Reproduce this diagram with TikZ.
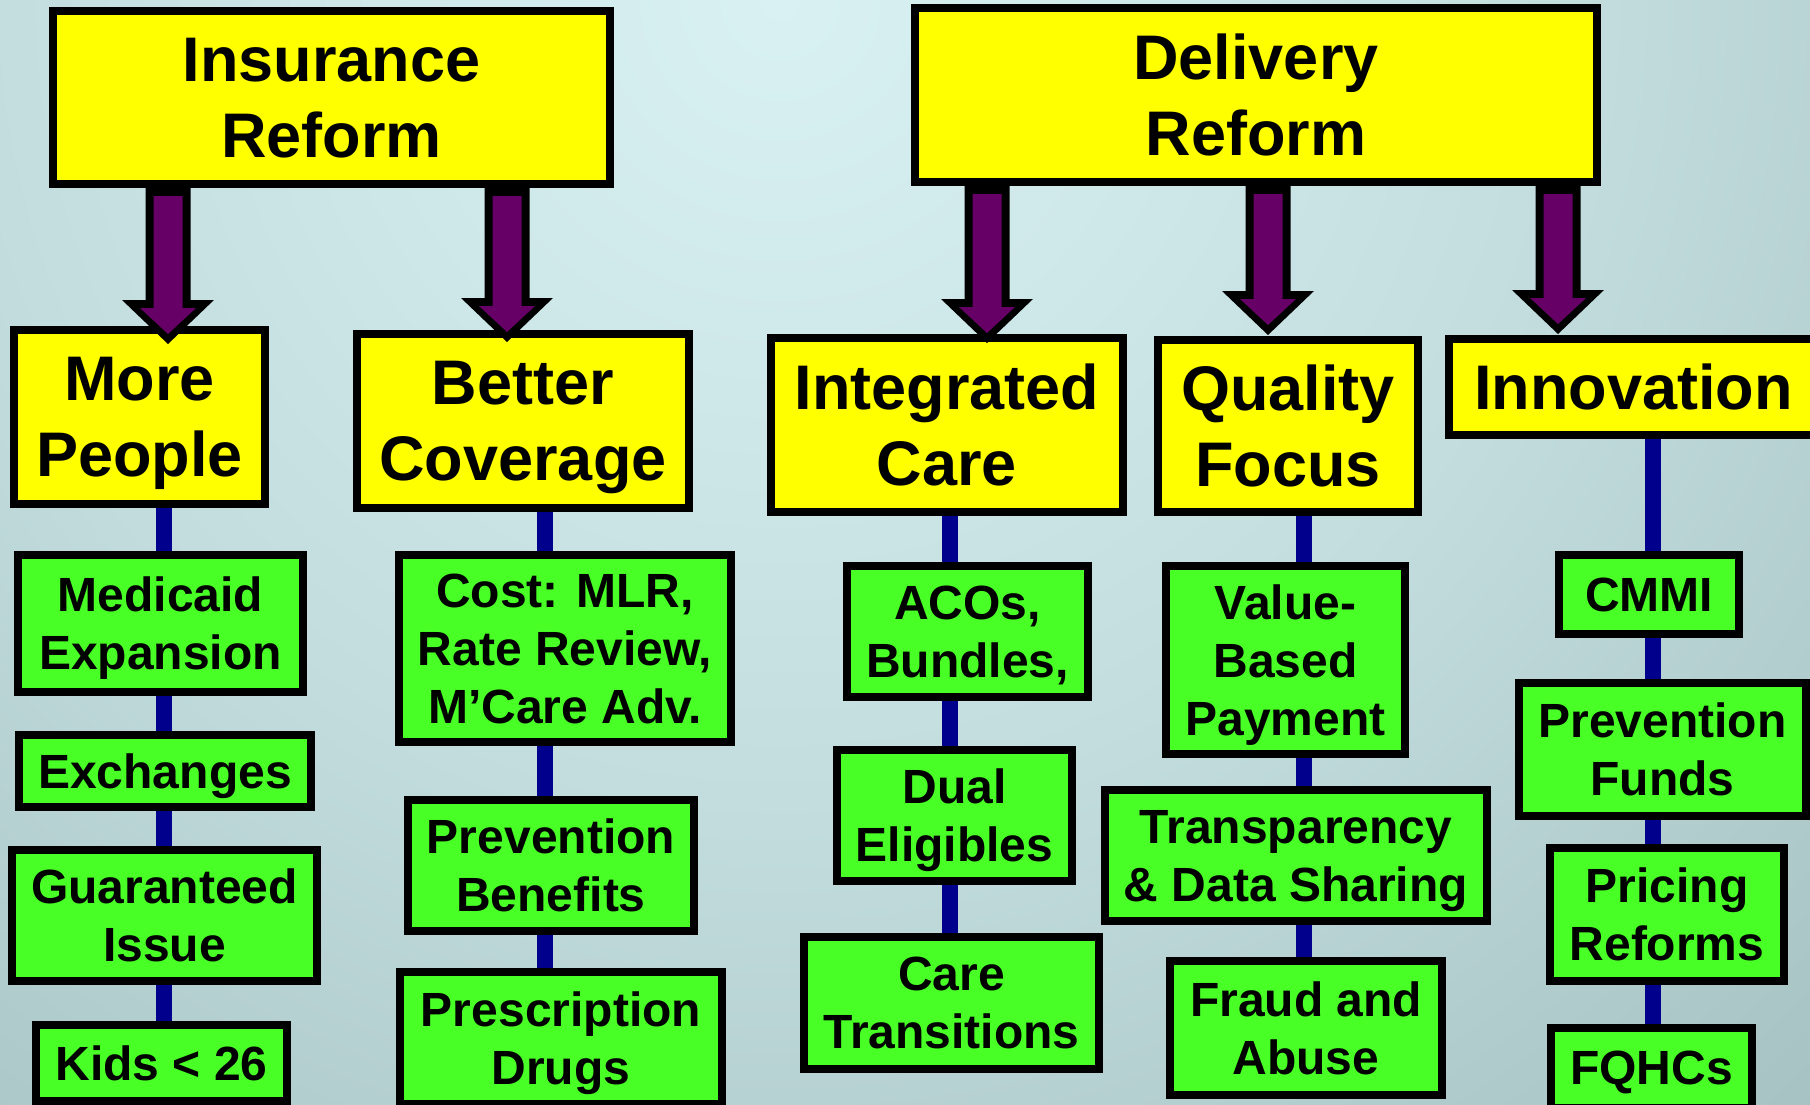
\documentclass[tikz,border=0pt]{standalone}
\usepackage{fontspec}
\setmainfont{Liberation Sans}
\usetikzlibrary{calc}

\definecolor{hdyellow}{RGB}{255,255,0}
\definecolor{itemgreen}{RGB}{72,255,38}
\definecolor{arrowpurple}{RGB}{102,0,102}
\definecolor{linknavy}{RGB}{0,0,140}
\definecolor{bgA}{HTML}{D9F1F2}
\definecolor{bgB}{HTML}{C3DDDE}
\definecolor{bgC}{HTML}{A3BFBF}
\definecolor{bgD}{HTML}{8BA7A5}
\definecolor{bgE}{HTML}{6D8985}

\pgfdeclareradialshading{backdrop}{\pgfpoint{0bp}{0bp}}{%
  color(0bp)=(bgA); color(12.5bp)=(bgB); color(25bp)=(bgC);
  color(34bp)=(bgD); color(47bp)=(bgE); color(50bp)=(bgE)}

\pgfdeclarelayer{backdrop}
\pgfdeclarelayer{links}
\pgfsetlayers{backdrop,links,main}

\tikzset{
  box/.style={draw=black, line width=8pt, inner sep=0pt, outer sep=0pt,
    align=center, text=black, text depth=0pt},
  head/.style={box, fill=hdyellow, font=\fontsize{63}{76}\selectfont\bfseries},
  item/.style={box, fill=itemgreen, font=\fontsize{48}{58}\selectfont\bfseries},
  link/.style={draw=linknavy, line width=16pt},
}

% fat outlined down arrow: #1 column coordinate, #2 source node,
% #3 target node, #4 tip offset below the target's top edge
\newcommand{\fatarrow}[4]{%
  \coordinate (fs) at (#2.south -| #1);
  \coordinate (ft) at ($(#3.north -| #1)+(0,#4)$);
  \fill[black] ($(fs)+(-22.5,0)$) -- ($(ft)+(-22.5,-44)$) -- ($(ft)+(-46,-44)$)
    -- (ft) -- ($(ft)+(46,-44)$) -- ($(ft)+(22.5,-44)$) -- ($(fs)+(22.5,0)$) -- cycle;
  \fill[arrowpurple] ($(fs)+(-14.5,12)$) -- ($(ft)+(-14.5,-36)$) -- ($(ft)+(-28,-36)$)
    -- ($(ft)+(0,-10)$) -- ($(ft)+(28,-36)$) -- ($(ft)+(14.5,-36)$) -- ($(fs)+(14.5,12)$) -- cycle;
}

\begin{document}
\begin{tikzpicture}[x=1pt, y=-1pt]
\useasboundingbox (0,0) rectangle (1810,1105);

\begin{pgfonlayer}{backdrop}
  \clip (0,0) rectangle (1810,1105);
  \shade[shading=backdrop] (780,0) circle (1600);
\end{pgfonlayer}

% column positions
\coordinate (c1) at (164,0);
\coordinate (c2) at (545,0);
\coordinate (c3) at (950,0);
\coordinate (c4) at (1304,0);
\coordinate (c5) at (1653,0);
\coordinate (a1) at (168,0);
\coordinate (a2) at (507,0);
\coordinate (a3) at (987,0);
\coordinate (a4) at (1268,0);
\coordinate (a5) at (1558,0);

% top level
\node[head, minimum width=557pt, minimum height=173pt] (ins) at (331.5,97.5) {Insurance\\Reform};
\node[head, minimum width=682pt, minimum height=174pt] (del) at (1256,95) {Delivery\\Reform};

% second level
\node[head, minimum width=251pt, minimum height=174pt] (mp) at (139.5,417) {More\\People};
\node[head, minimum width=332pt, minimum height=174pt] (bc) at (523,421) {Better\\Coverage};
\node[head, minimum width=352pt, minimum height=174pt] (ic) at (947,425) {Integrated\\Care};
\node[head, minimum width=260pt, minimum height=172pt] (qf) at (1288,426) {Quality\\Focus};
\node[head, minimum width=369pt, minimum height=96pt] (inn) at (1633.5,387) {Innovation};

% more people
\node[item, minimum width=285pt, minimum height=137pt] (med) at (160.5,623.5) {Medicaid\\Expansion};
\node[item, minimum width=292pt, minimum height=72pt] (exc) at (165,771) {Exchanges};
\node[item, minimum width=305pt, minimum height=131pt] (gi) at (164.5,915.5) {Guaranteed\\Issue};
\node[item, minimum width=251pt, minimum height=76pt] (kids) at (161.5,1063) {Kids < 26};

% better coverage
\node[item, minimum width=332pt, minimum height=187pt] (cost) at (565,648.5) {Cost: MLR,\\Rate Review,\\M’Care Adv.};
\node[item, minimum width=286pt, minimum height=131pt] (pb) at (551,865.5) {Prevention\\Benefits};
\node[item, minimum width=322pt, minimum height=132pt] (rx) at (561,1038) {Prescription\\Drugs};

% integrated care
\node[item, minimum width=241pt, minimum height=131pt] (aco) at (967.5,631.5) {ACOs,\\Bundles,};
\node[item, minimum width=235pt, minimum height=131pt] (dual) at (954.5,815.5) {Dual\\Eligibles};
\node[item, minimum width=295pt, minimum height=132pt] (ct) at (951.5,1003) {Care\\Transitions};

% quality focus
\node[item, minimum width=239pt, minimum height=188pt] (vbp) at (1285.5,660) {Value-\\Based\\Payment};
\node[item, minimum width=382pt, minimum height=131pt] (tds) at (1296,855.5) {Transparency\\\& Data Sharing};
\node[item, minimum width=272pt, minimum height=134pt] (fa) at (1306,1028) {Fraud and\\Abuse};

% innovation
\node[item, minimum width=180pt, minimum height=79pt] (cmmi) at (1649,594.5) {CMMI};
\node[item, minimum width=287pt, minimum height=133pt] (pf) at (1662.5,749.5) {Prevention\\Funds};
\node[item, minimum width=234pt, minimum height=133pt] (pr) at (1667,914.5) {Pricing\\Reforms};
\node[item, minimum width=201pt, minimum height=80pt] (fq) at (1651.5,1068) {FQHCs};

% column connectors
\begin{pgfonlayer}{links}
  \draw[link] (mp.south -| c1) -- (med.north -| c1);
  \draw[link] (med.south -| c1) -- (exc.north -| c1);
  \draw[link] (exc.south -| c1) -- (gi.north -| c1);
  \draw[link] (gi.south -| c1) -- (kids.north -| c1);
  \draw[link] (bc.south -| c2) -- (cost.north -| c2);
  \draw[link] (cost.south -| c2) -- (pb.north -| c2);
  \draw[link] (pb.south -| c2) -- (rx.north -| c2);
  \draw[link] (ic.south -| c3) -- (aco.north -| c3);
  \draw[link] (aco.south -| c3) -- (dual.north -| c3);
  \draw[link] (dual.south -| c3) -- (ct.north -| c3);
  \draw[link] (qf.south -| c4) -- (vbp.north -| c4);
  \draw[link] (vbp.south -| c4) -- (tds.north -| c4);
  \draw[link] (tds.south -| c4) -- (fa.north -| c4);
  \draw[link] (inn.south -| c5) -- (cmmi.north -| c5);
  \draw[link] (cmmi.south -| c5) -- (pf.north -| c5);
  \draw[link] (pf.south -| c5) -- (pr.north -| c5);
  \draw[link] (pr.south -| c5) -- (fq.north -| c5);
\end{pgfonlayer}

% arrows from the reform boxes
\fatarrow{a1}{ins}{mp}{14}
\fatarrow{a2}{ins}{bc}{8}
\fatarrow{a3}{del}{ic}{5}
\fatarrow{a4}{del}{qf}{-5}
\fatarrow{a5}{del}{inn}{-5}
\end{tikzpicture}
\end{document}
